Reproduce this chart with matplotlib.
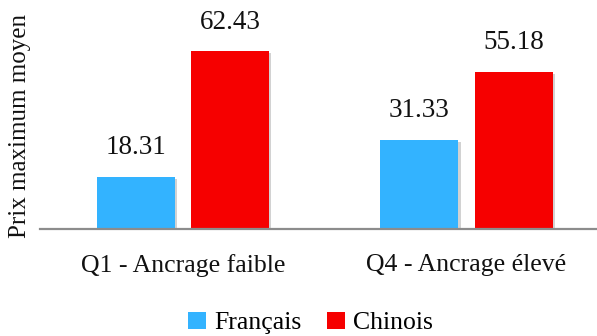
import matplotlib
matplotlib.use("Agg")
import matplotlib.pyplot as plt
import matplotlib.patheffects as pe
from matplotlib.patches import Patch
import numpy as np

# Data
categories = ["Q1 - Ancrage faible", "Q4 - Ancrage élevé"]
series_names = ["Français", "Chinois"]
francais = [18.31, 31.33]
chinois = [62.43, 55.18]
colors = ["#33B3FF", "#F60000"]

plt.rcParams["font.family"] = ["Liberation Serif", "DejaVu Serif"]
FS = 18.5

W, H = 597, 336
fig = plt.figure(figsize=(W / 100, H / 100), dpi=100)
ax_left, ax_right, ax_bottom_px = 40, 597, 229
ax = fig.add_axes([ax_left / W, 1 - ax_bottom_px / H, (ax_right - ax_left) / W, ax_bottom_px / H])

x = np.arange(len(categories))
width = 0.275
offset = 0.166
shadow = [pe.SimplePatchShadow(offset=(1.5, -1.5), shadow_rgbFace="#808080", alpha=0.35), pe.Normal()]

for vals, off, col in zip([francais, chinois], [-offset, offset], colors):
    bars = ax.bar(x + off, vals, width=width, color=col, zorder=2)
    for b, v in zip(bars, vals):
        b.set_path_effects(shadow)
        ax.annotate(f"{v:.2f}", (b.get_x() + b.get_width() / 2, v),
                    xytext=(0, 29), textcoords="offset pixels",
                    ha="center", va="center", fontsize=19.5, color="#111111")

ax.set_xlim(-0.504, 1.46)
ax.set_ylim(0, 229 / 2.851)

for s in ["top", "right", "left"]:
    ax.spines[s].set_visible(False)
ax.spines["bottom"].set_color("#8C8C8C")
ax.spines["bottom"].set_linewidth(1.6)
ax.spines["bottom"].set_zorder(3)
ax.set_yticks([])
ax.set_xticks(x)
ax.set_xticklabels(categories, fontsize=FS, color="#111111")
ax.tick_params(axis="x", length=0, pad=18)

ax.set_ylabel("Prix maximum moyen", fontsize=18, color="#111111")
ax.yaxis.label.set_va("center")
ax.yaxis.set_label_coords(-20 / 557, (229 - 126) / 229)

handles = [Patch(facecolor=c, edgecolor="none") for c in colors]
fig.legend(handles, series_names, loc="center", bbox_to_anchor=(0.52, 1 - 323 / H),
           ncol=2, frameon=False, fontsize=FS, handlelength=0.7, handleheight=0.7,
           handletextpad=0.3, columnspacing=1.0, borderpad=0)

fig.savefig("out.png", dpi=100)
